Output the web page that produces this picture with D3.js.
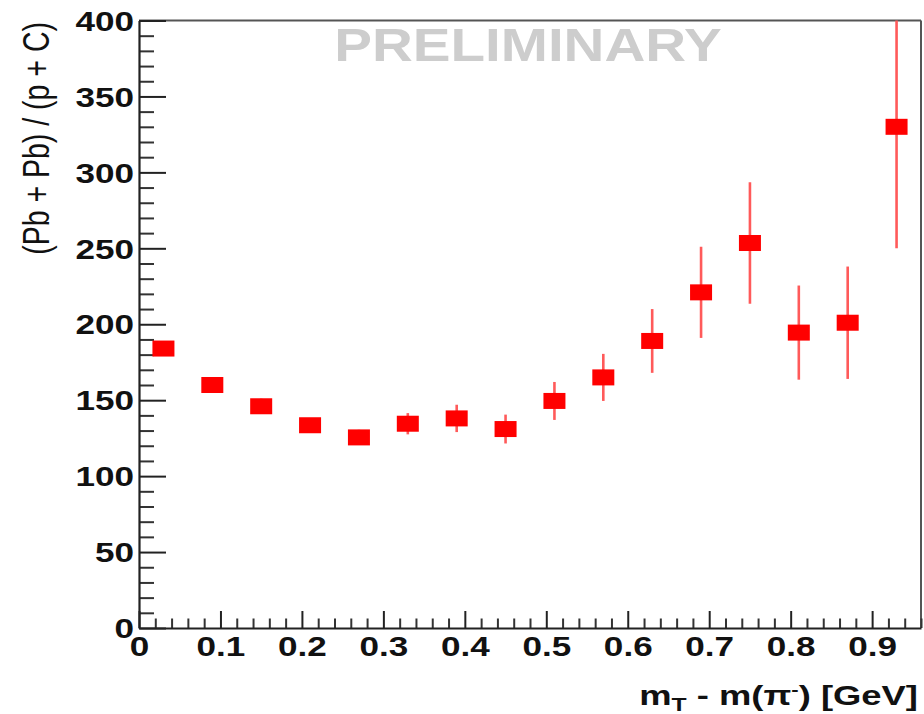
<!DOCTYPE html>
<html>
<head>
<meta charset="utf-8">
<script src="https://cdn.jsdelivr.net/npm/d3@7"></script>
<style>
  html, body { margin: 0; padding: 0; background: #fff; }
  svg { display: block; }
  text { font-family: "Liberation Sans", Arial, Helvetica, sans-serif; }
</style>
</head>
<body>
<svg id="chart" width="924" height="714"></svg>
<script>
// Bin centres of m_T - m(pi-) [GeV]
const binCenters = [0.03, 0.09, 0.15, 0.21, 0.27, 0.33, 0.39, 0.45, 0.51, 0.57, 0.63, 0.69, 0.75, 0.81, 0.87, 0.93];
// Ratio (Pb+Pb)/(p+C) in each bin
const ratioValues = [184, 160, 146, 133.5, 125.5, 134.5, 138, 131, 149.5, 165, 189, 221, 253.5, 194.5, 201, 330];
// Statistical uncertainties
const ratioErrors = [3, 3, 5, 4, 5, 7, 9, 9.5, 12.5, 15.5, 21, 30, 40, 31, 37, 80];
// Axis tick values
const xMajorTicks = [0, 0.1, 0.2, 0.3, 0.4, 0.5, 0.6, 0.7, 0.8, 0.9];
const yMajorTicks = [0, 50, 100, 150, 200, 250, 300, 350, 400];

const frame = { left: 139, right: 921, top: 20.5, bottom: 628 };
const sx = 1.3;   // horizontal stretch of the lettering

const svg = d3.select("#chart");

const x = d3.scaleLinear().domain([0, 0.96]).range([frame.left, frame.right]);
const y = d3.scaleLinear().domain([0, 400]).range([frame.bottom, frame.top]);

const xMinor = d3.range(0, 0.961, 0.02).filter(v => Math.abs(v * 10 - Math.round(v * 10)) > 1e-6);
const yMinor = d3.range(0, 401, 10).filter(v => v % 50 !== 0);

// frame: top and right edges
svg.append("line").attr("x1", frame.left).attr("x2", frame.right).attr("y1", frame.top).attr("y2", frame.top)
  .attr("stroke", "#555").attr("stroke-width", 2);
svg.append("line").attr("x1", frame.right).attr("x2", frame.right).attr("y1", frame.top).attr("y2", frame.bottom)
  .attr("stroke", "#555").attr("stroke-width", 2);

// y axis: minor ticks
svg.append("g").attr("transform", `translate(${frame.left},0)`)
  .call(d3.axisLeft(y).tickValues(yMinor).tickSizeInner(-15).tickSizeOuter(0).tickFormat(""))
  .call(g => g.select(".domain").remove())
  .call(g => g.selectAll("line").attr("stroke", "#333").attr("stroke-width", 2));

// y axis: major ticks and labels
svg.append("g").attr("transform", `translate(${frame.left},0)`)
  .call(d3.axisLeft(y).tickValues(yMajorTicks).tickSizeInner(-27).tickSizeOuter(0).tickPadding(5).tickFormat(d3.format("d")))
  .call(g => g.select(".domain").attr("stroke", "#222").attr("stroke-width", 2.2))
  .call(g => g.selectAll("line").attr("stroke", "#222").attr("stroke-width", 2))
  .call(g => g.selectAll("text")
    .attr("font-size", 27).attr("font-weight", "bold").attr("fill", "#111")
    .attr("x", null).attr("dy", "0.36em")
    .attr("transform", `translate(-5,0) scale(${sx},1)`));

// x axis: minor ticks
svg.append("g").attr("transform", `translate(0,${frame.bottom})`)
  .call(d3.axisBottom(x).tickValues(xMinor).tickSizeInner(-9.5).tickSizeOuter(0).tickFormat(""))
  .call(g => g.select(".domain").remove())
  .call(g => g.selectAll("line").attr("stroke", "#333").attr("stroke-width", 2));

// x axis: major ticks and labels
svg.append("g").attr("transform", `translate(0,${frame.bottom})`)
  .call(d3.axisBottom(x).tickValues(xMajorTicks).tickSizeInner(-17).tickSizeOuter(0).tickFormat(d => d === 0 ? "0" : d3.format(".1f")(d)))
  .call(g => g.select(".domain").attr("stroke", "#222").attr("stroke-width", 2.2))
  .call(g => g.selectAll("line").attr("stroke", "#222").attr("stroke-width", 2))
  .call(g => g.selectAll("text")
    .attr("font-size", 27).attr("font-weight", "bold").attr("fill", "#111")
    .attr("y", null).attr("dy", null)
    .attr("transform", `translate(0,28) scale(${sx},1)`));

// watermark
svg.append("text")
  .attr("transform", `translate(528,61) scale(1.23,1)`)
  .attr("text-anchor", "middle")
  .attr("font-size", 46).attr("font-weight", "bold").attr("fill", "#cdcdcd")
  .text("PRELIMINARY");

// axis titles
const xt = svg.append("text")
  .attr("transform", `translate(918,705) scale(${sx},1)`)
  .attr("text-anchor", "end")
  .attr("font-size", 28).attr("font-weight", "bold").attr("fill", "#111");
xt.append("tspan").text("m");
xt.append("tspan").attr("font-size", 19).attr("dy", 6).text("T");
xt.append("tspan").attr("dy", -6).text(" - m(π");
xt.append("tspan").attr("font-size", 17).attr("dy", -10).text("-");
xt.append("tspan").attr("dy", 10).text(") [GeV]");

svg.append("text")
  .attr("transform", `translate(48.5,22) scale(${sx},1) rotate(-90)`)
  .attr("text-anchor", "end")
  .attr("font-size", 28.5).attr("fill", "#111")
  .text("(Pb + Pb) / (p + C)");

// data
svg.append("clipPath").attr("id", "plotClip")
  .append("rect").attr("x", frame.left).attr("y", frame.top)
  .attr("width", frame.right - frame.left).attr("height", frame.bottom - frame.top);

const points = binCenters.map((c, i) => ({ x: c, v: ratioValues[i], e: ratioErrors[i] }));

const plot = svg.append("g").attr("clip-path", "url(#plotClip)");

plot.selectAll("line.err").data(points).join("line")
  .attr("class", "err")
  .attr("x1", d => x(d.x)).attr("x2", d => x(d.x))
  .attr("y1", d => y(d.v + d.e)).attr("y2", d => y(d.v - d.e))
  .attr("stroke", "#ff5a5a").attr("stroke-width", 2.6);

const mw = 22, mh = 16;
plot.selectAll("rect.pt").data(points).join("rect")
  .attr("class", "pt")
  .attr("x", d => x(d.x) - mw / 2).attr("y", d => y(d.v) - mh / 2)
  .attr("width", mw).attr("height", mh)
  .attr("fill", "#ff0000");
</script>
</body>
</html>
